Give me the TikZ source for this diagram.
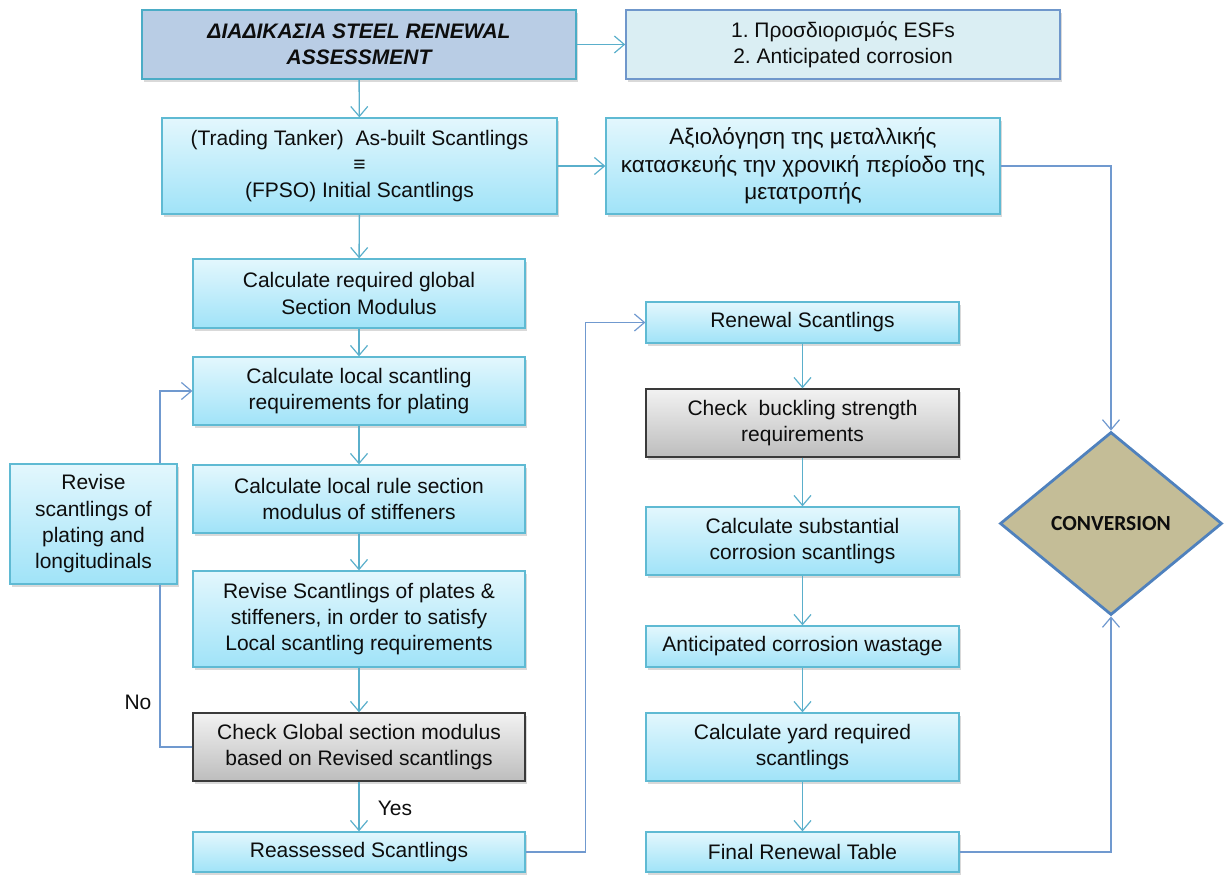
\documentclass[tikz,border=0pt]{standalone}
\usepackage{fontspec}
\setmainfont{Liberation Sans}
\newfontfamily\calibfont{Carlito}
\usetikzlibrary{arrows.meta,shapes.geometric,shadows}

\definecolor{cyanline}{HTML}{5AAFCB}
\definecolor{blueline}{HTML}{7099CF}
\definecolor{cyantop}{HTML}{E3F7FD}
\definecolor{cyanbot}{HTML}{A0E3F8}
\definecolor{cyanedge}{HTML}{5FBAD3}
\definecolor{graytop}{HTML}{F2F2F2}
\definecolor{graybot}{HTML}{BDBDBD}
\definecolor{grayedge}{HTML}{3A3A3A}
\definecolor{titlefill}{HTML}{B9CDE5}
\definecolor{titleedge}{HTML}{4BACC6}
\definecolor{esffill}{HTML}{DAEEF3}
\definecolor{esfedge}{HTML}{6F97CB}
\definecolor{convfill}{HTML}{C4BD97}
\definecolor{convedge}{HTML}{4F81BD}
\definecolor{ink}{HTML}{0D0D0D}

\tikzset{
  every node/.style={text=ink, font=\fontsize{21}{26.3}\selectfont, align=center, inner sep=0pt},
  shade box/.style={drop shadow={shadow xshift=1.5pt, shadow yshift=-2.5pt, opacity=0.3}},
  cyanbox/.style={shade box, rectangle, draw=cyanedge, line width=1.3pt,
    top color=cyantop, bottom color=cyanbot},
  graybox/.style={shade box, rectangle, draw=grayedge, line width=1.3pt,
    top color=graytop, bottom color=graybot},
  titlebox/.style={shade box, rectangle, draw=titleedge, line width=1.5pt, fill=titlefill},
  esfbox/.style={shade box, rectangle, draw=esfedge, line width=1.5pt, fill=esffill},
  tip/.style={-{Straight Barb[length=10pt, width=17pt, line width=1.2pt]}},
  cyanflow/.style={tip, draw=cyanline, line width=1.4pt},
  blueflow/.style={tip, draw=blueline, line width=1.4pt},
  blueline/.style={draw=blueline, line width=1.4pt},
  tag/.style={font=\fontsize{21}{24}\selectfont},
}

\begin{document}
\frenchspacing
\begin{tikzpicture}[x=1pt, y=-1pt]
\useasboundingbox (0,0) rectangle (1225,876);

% top row
\node[titlebox, minimum width=434pt, minimum height=69pt] (title) at (359,44.5)
  {\bfseries\itshape ΔΙΑΔΙΚΑΣΙΑ STEEL RENEWAL\\\bfseries\itshape ASSESSMENT};
\node[esfbox, minimum width=434pt, minimum height=69pt] (esf) at (843,44.5)
  {1. Προσδιορισμός ESFs\\2. Anticipated corrosion};

% second row
\node[cyanbox, minimum width=395pt, minimum height=96pt] (asbuilt) at (359.5,166)
  {(Trading Tanker)\ \ As-built Scantlings\\≡\\(FPSO) Initial Scantlings};
\node[cyanbox, minimum width=394pt, minimum height=96pt,
  font=\fontsize{22.5}{27.5}\selectfont] (eval) at (803,166)
  {Αξιολόγηση της μεταλλικής\\κατασκευής την χρονική περίοδο της\\μετατροπής};

% left column
\node[cyanbox, minimum width=332pt, minimum height=69pt] (glob) at (359,293.5)
  {Calculate required global\\Section Modulus};
\node[cyanbox, minimum width=332pt, minimum height=68pt] (local) at (359,391)
  {Calculate local scantling\\requirements for plating};
\node[cyanbox, minimum width=332pt, minimum height=68pt] (rule) at (359,499)
  {Calculate local rule section\\modulus of stiffeners};
\node[cyanbox, minimum width=332pt, minimum height=96pt] (plates) at (359,619)
  {Revise Scantlings of plates \&\\stiffeners, in order to satisfy\\Local scantling requirements};
\node[graybox, minimum width=332pt, minimum height=68pt] (check) at (359,747)
  {Check Global section modulus\\based on Revised scantlings};
\node[cyanbox, minimum width=332pt, minimum height=40pt] (reass) at (359,852)
  {Reassessed Scantlings};
\node[cyanbox, minimum width=167pt, minimum height=120pt] (revise) at (93.5,524)
  {Revise\\scantlings of\\plating and\\longitudinals};

% right column
\node[cyanbox, minimum width=313pt, minimum height=41pt] (renew) at (802.5,322.5)
  {Renewal Scantlings};
\node[graybox, minimum width=313pt, minimum height=68pt] (buck) at (802.5,423)
  {Check\ \ buckling strength\\requirements};
\node[cyanbox, minimum width=313pt, minimum height=68pt] (subst) at (802.5,541)
  {Calculate substantial\\corrosion scantlings};
\node[cyanbox, minimum width=313pt, minimum height=41pt] (antic) at (802.5,646.5)
  {Anticipated corrosion wastage};
\node[cyanbox, minimum width=313pt, minimum height=68pt] (yard) at (802.5,747)
  {Calculate yard required\\scantlings};
\node[cyanbox, minimum width=313pt, minimum height=40pt] (final) at (802.5,852)
  {Final Renewal Table};

% decision
\node[diamond, draw=convedge, line width=2.8pt, fill=convfill,
  minimum width=222pt, minimum height=183pt,
  font=\calibfont\bfseries\fontsize{21.5}{24}\selectfont] (conv) at (1111,523.5) {CONVERSION};

% branch labels
\node[tag] (no) at (138,702) {No};
\node[tag] (yes) at (395,808) {Yes};

% connectors
\draw[cyanflow] (title) -- (esf);
\draw[cyanflow] (title) -- (asbuilt);
\draw[cyanflow] (asbuilt) -- (eval);
\draw[cyanflow] (asbuilt) -- (glob);
\draw[cyanflow] (glob) -- (local);
\draw[cyanflow] (local) -- (rule);
\draw[cyanflow] (rule) -- (plates);
\draw[cyanflow] (plates) -- (check);
\draw[cyanflow] (check) -- (reass);

\draw[blueline] (check.west) -| ([xshift=66.5pt]revise.south);
\draw[blueflow] ([xshift=66.5pt]revise.north) |- (local.west);

\draw[blueflow] (reass.east) -- ++(60,0) |- (renew.west);

\draw[cyanflow] (renew) -- (buck);
\draw[cyanflow] (buck) -- (subst);
\draw[cyanflow] (subst) -- (antic);
\draw[cyanflow] (antic) -- (yard);
\draw[cyanflow] (yard) -- (final);

\draw[blueflow] (eval.east) -| (conv.north);
\draw[blueflow] (final.east) -| (conv.south);
\end{tikzpicture}
\end{document}
